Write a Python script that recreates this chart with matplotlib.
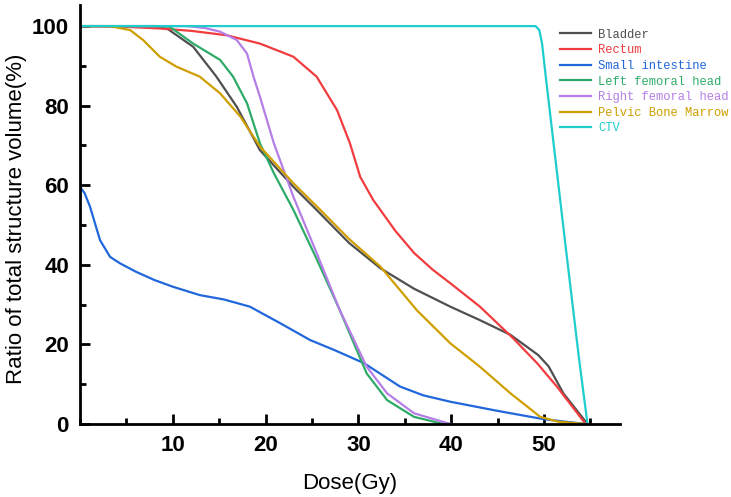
import matplotlib
matplotlib.use("Agg")
import matplotlib.pyplot as plt
from matplotlib.ticker import MultipleLocator

# dose (Gy) / volume (%) points
bladder_x = [0, 8.0, 9.5, 12.2, 14.7, 16.9, 19.4, 23.0, 25.5, 29.0, 32.4, 36.0, 39.9, 43.1, 46.4, 49.4, 50.5, 52.1, 54.7]
bladder_y = [100, 100, 99.2, 94.8, 87.3, 79.7, 68.8, 59.6, 53.8, 45.5, 39.1, 34.0, 29.5, 26.1, 22.4, 17.3, 14.5, 7.7, 0]

rectum_x = [0, 5.0, 8.6, 12.0, 15.8, 19.4, 23.0, 25.5, 27.7, 29.1, 30.2, 31.6, 34.0, 36.0, 38.0, 39.9, 43.1, 46.7, 49.3, 51.4, 54.5]
rectum_y = [100, 99.8, 99.4, 98.8, 97.7, 95.6, 92.3, 87.3, 78.9, 70.5, 62.1, 56.3, 48.5, 43.0, 38.8, 35.4, 29.5, 21.5, 15.2, 9.4, 0]

small_x = [0, 0.5, 1.08, 2.16, 3.24, 4.3, 6.0, 8.0, 10.0, 12.9, 15.5, 18.3, 21.6, 24.8, 27.5, 30.6, 34.5, 37.0, 39.9, 45.0, 50.0, 54.5]
small_y = [59.6, 58.0, 54.6, 46.2, 42.0, 40.4, 38.3, 36.2, 34.5, 32.4, 31.3, 29.5, 25.3, 21.1, 18.5, 15.3, 9.4, 7.2, 5.6, 3.3, 1.2, 0]

left_x = [0, 8.5, 9.7, 12.2, 15.1, 16.5, 18.0, 19.4, 20.9, 23.0, 25.5, 28.0, 30.9, 33.1, 36.0, 38.8, 40.0]
left_y = [100, 100, 99.8, 95.6, 91.5, 87.3, 80.6, 70.5, 63.0, 53.8, 41.5, 28.6, 12.7, 6.0, 1.8, 0.2, 0]

right_x = [0, 11.5, 13.5, 15.1, 16.9, 18.0, 18.7, 19.4, 20.9, 23.0, 25.5, 28.0, 30.9, 33.1, 36.0, 39.6, 40.0]
right_y = [100, 100, 99.5, 98.6, 96.5, 93.1, 87.3, 82.2, 70.5, 57.1, 43.0, 28.6, 14.4, 7.7, 2.7, 0.2, 0]

pelvic_x = [0, 3.2, 5.4, 6.8, 8.6, 10.4, 12.9, 15.1, 17.3, 19.4, 23.0, 25.9, 29.0, 32.4, 36.3, 39.9, 43.1, 46.4, 49.6, 51.5, 54.5]
pelvic_y = [100, 100, 99.0, 96.5, 92.3, 89.8, 87.3, 83.1, 77.2, 69.7, 60.5, 53.8, 46.5, 39.5, 28.6, 20.3, 14.4, 7.7, 1.8, 0.6, 0]

ctv_x = [0, 49.1, 49.5, 49.8, 50.2, 52.3, 53.8, 54.7]
ctv_y = [100, 100, 99.0, 95.6, 87.3, 45.4, 16.1, 0]

series = [
    ("Bladder", bladder_x, bladder_y, "#4f4f4f"),
    ("Rectum", rectum_x, rectum_y, "#f03c3f"),
    ("Small intestine", small_x, small_y, "#2167dc"),
    ("Left femoral head", left_x, left_y, "#2eab68"),
    ("Right femoral head", right_x, right_y, "#b47ee6"),
    ("Pelvic Bone Marrow", pelvic_x, pelvic_y, "#cf9f00"),
    ("CTV", ctv_x, ctv_y, "#1fcdcd"),
]

plt.rcParams["font.family"] = ["Liberation Sans", "DejaVu Sans"]

fig = plt.figure(figsize=(7.31, 4.97), dpi=100)
ax = fig.add_axes([80 / 731, 73 / 497, 540 / 731, 419 / 497])

for name, x, y, c in series:
    ax.plot(x, y, color=c, lw=1.6, label=name, solid_joinstyle="round")

ax.set_xlim(0, 58.2)
ax.set_ylim(0, 105.3)
ax.set_xticks([10, 20, 30, 40, 50])
ax.xaxis.set_minor_locator(MultipleLocator(5))
ax.set_yticks([0, 20, 40, 60, 80, 100])
ax.yaxis.set_minor_locator(MultipleLocator(10))

ax.spines[["top", "right"]].set_visible(False)
ax.spines[["left", "bottom"]].set_linewidth(2)
ax.tick_params(which="major", direction="in", length=7, width=2, pad=8,
               labelsize=16)
ax.tick_params(which="minor", direction="in", length=4, width=2)
for lab in ax.get_xticklabels() + ax.get_yticklabels():
    lab.set_fontweight("bold")

ax.set_xlabel("Dose(Gy)", fontsize=16)
ax.set_ylabel("Ratio of total structure volume(%)", fontsize=16)
ax.yaxis.set_label_coords(-0.098, 0.49)
ax.xaxis.set_label_coords(0.5, -0.118)

leg = ax.legend(loc="upper left", bbox_to_anchor=(0.88, 0.955),
                frameon=False, prop={"family": "Liberation Mono", "size": 8.7},
                handlelength=2.6, handletextpad=0.55, labelspacing=0.3,
                borderaxespad=0)
for txt, (_, _, _, c) in zip(leg.get_texts(), series):
    txt.set_color(c)

fig.savefig("out.png", dpi=100)
